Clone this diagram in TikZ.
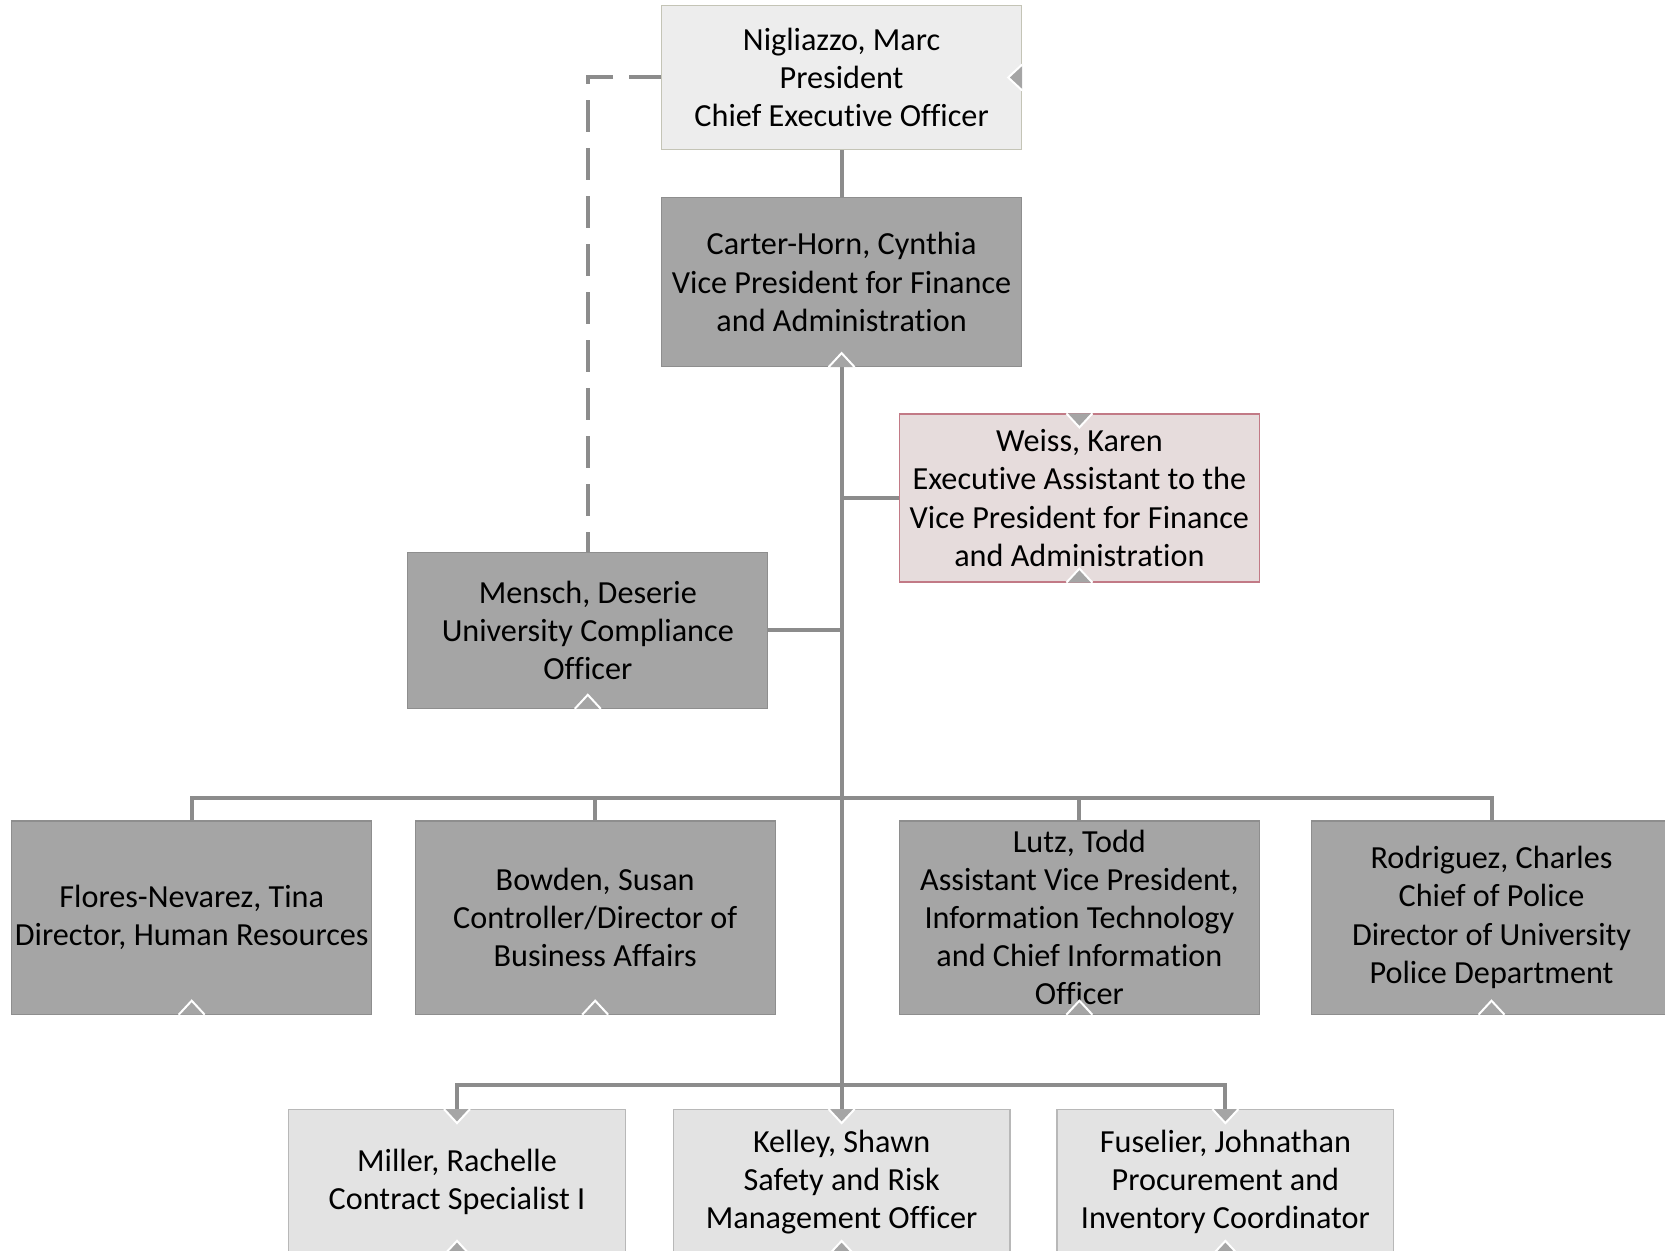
\documentclass[tikz,border=0pt]{standalone}
\usepackage{fontspec}
\setmainfont{Carlito}[Ligatures=NoCommon]
\usepackage{xcolor}
\usepackage{tikz}
\usetikzlibrary{calc}

\definecolor{boxgray}{HTML}{A5A5A5}
\definecolor{boxedge}{HTML}{8E8E8E}
\definecolor{topfill}{HTML}{EDEDED}
\definecolor{topedge}{HTML}{C4C4B6}
\definecolor{asstfill}{HTML}{E6DCDC}
\definecolor{asstedge}{HTML}{C27A86}
\definecolor{lowfill}{HTML}{E3E3E3}
\definecolor{lowedge}{HTML}{B8B8B8}
\definecolor{linegray}{HTML}{8C8C8C}

\newcommand{\notchup}[1]{\filldraw[notch] ($(#1.south)+(-13,0)$) -- ($(#1.south)+(0,-14)$) -- ($(#1.south)+(13,0)$);}
\newcommand{\notchdown}[1]{\filldraw[notch] ($(#1.north)+(-13,0)$) -- ($(#1.north)+(0,14)$) -- ($(#1.north)+(13,0)$);}
\newcommand{\notchleft}[1]{\filldraw[notch] ($(#1.east)+(0,-13)$) -- ($(#1.east)+(-14,0)$) -- ($(#1.east)+(0,13)$);}

\begin{document}
\begin{tikzpicture}[x=0.5pt,y=-0.5pt,
    orgbox/.style={line width=0.6pt, inner sep=0pt, align=center,
        font=\fontsize{16.1}{19.1}\selectfont, minimum width=180pt},
    darkbox/.style={orgbox, draw=boxedge, fill=boxgray},
    topbox/.style={orgbox, draw=topedge, fill=topfill, minimum height=72.2pt},
    asstbox/.style={orgbox, draw=asstedge, fill=asstfill, minimum height=84pt},
    lowbox/.style={orgbox, draw=lowedge, fill=lowfill, minimum width=168.4pt, minimum height=72.3pt},
    conn/.style={draw=linegray, line width=2pt},
    dashconn/.style={conn, dash pattern=on 16pt off 8pt},
    notch/.style={draw=white, fill=boxgray, line width=1pt}]
    \useasboundingbox (0,0) rectangle (1665,1251);

    \node[topbox] (ceo) at (841.6,77.5) {Nigliazzo, Marc\\President\\Chief Executive Officer};
    \node[darkbox, minimum height=84.5pt] (vpfa) at (841.6,282) {Carter-Horn, Cynthia\\Vice President for Finance\\and Administration};
    \node[asstbox] (weiss) at (1079.4,498) {Weiss, Karen\\Executive Assistant to the\\Vice President for Finance\\and Administration};
    \node[darkbox, minimum height=78pt] (mensch) at (587.8,630.2) {Mensch, Deserie\\University Compliance\\Officer};
    \node[darkbox, minimum height=96.6pt] (flores) at (191.7,917.5) {Flores-Nevarez, Tina\\Director, Human Resources};
    \node[darkbox, minimum height=96.6pt] (bowden) at (595.2,917.5) {Bowden, Susan\\Controller/Director of\\Business Affairs};
    \node[darkbox, minimum height=96.6pt] (lutz) at (1079.4,917.5) {Lutz, Todd\\Assistant Vice President,\\Information Technology\\and Chief Information\\Officer};
    \node[darkbox, minimum height=96.6pt] (rodriguez) at (1491.5,917.5) {Rodriguez, Charles\\Chief of Police\\Director of University\\Police Department};
    \node[lowbox] (miller) at (457,1182) {Miller, Rachelle\\Contract Specialist I};
    \node[lowbox] (kelley) at (841.6,1182) {Kelley, Shawn\\Safety and Risk\\Management Officer};
    \node[lowbox] (fuselier) at (1225.4,1182) {Fuselier, Johnathan\\Procurement and\\Inventory Coordinator};

    \coordinate (bus1) at (841.6,797.5);
    \coordinate (bus2) at (841.6,1085.3);

    \draw[conn] (ceo) -- (vpfa);
    \draw[conn] (vpfa.south) -- (kelley.north);
    \draw[conn] (weiss.west) -- (weiss.west -| vpfa.south);
    \draw[conn] (mensch.east) -- (mensch.east -| vpfa.south);
    \draw[conn] (flores.north) |- (bus1) -| (rodriguez.north);
    \draw[conn] (bowden.north) |- (bus1);
    \draw[conn] (lutz.north) |- (bus1);
    \draw[conn] (miller.north) |- (bus2) -| (fuselier.north);
    \draw[dashconn] (ceo.west) -| (mensch.north);

    \notchleft{ceo}
    \notchup{vpfa}
    \notchdown{weiss}
    \notchup{weiss}
    \notchup{mensch}
    \notchup{flores}
    \notchup{bowden}
    \notchup{lutz}
    \notchup{rodriguez}
    \notchdown{miller}
    \notchdown{kelley}
    \notchdown{fuselier}
    \notchup{miller}
    \notchup{kelley}
    \notchup{fuselier}
\end{tikzpicture}
\end{document}
